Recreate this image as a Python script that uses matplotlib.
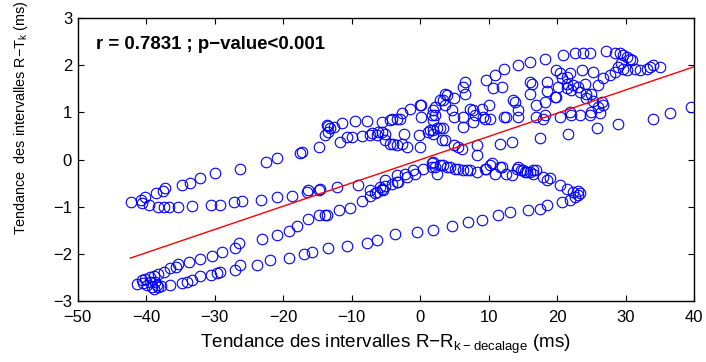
"""Scatter of R-T_k trend vs R-R_k-decalage trend with linear fit."""
import matplotlib
matplotlib.use("Agg")
import matplotlib.pyplot as plt
import numpy as np

# upper band + upper cloud
upper_x = [-42.2, -40.8, -40.1, -38.5, -37.5, -37.2, -34.8, -33.6, -32.2, -29.9, -26.3, -22.5,
           -20.9, -17.5, -17.3, -14.7, -13.9, -13.6, -13.4, -13.1, -13.4, -12.6, -11.7, -11.4,
           -10.7, -10.0, -9.5, -8.5, -7.8, -7.3, -7.0, -6.3, -6.1, -5.6, -5.6, -5.1, -5.1, -4.4,
           -4.4, -4.1, -3.9, -3.4, -3.4, -2.9, -2.7, -2.7, -2.4, -1.9, -1.5, 0.0, 0.2, 0.2, 0.0,
           -0.2, 1.2, 1.5, 1.7, 1.9, 1.9, 1.9, 1.9, 2.2, 2.2, 2.4, 2.9, 2.9, 3.2, 3.4, 3.4, 3.6,
           3.6, 3.6, 3.9, 4.6, 4.9, 4.9, 4.9, 5.6, 6.1, 6.3, 6.3, 6.3, 6.6, 6.6, 7.3, 7.8, 7.8,
           8.0, 8.3, 8.3, 9.0, 9.2, 9.5, 9.7, 10.0, 10.2, 10.7, 10.9, 11.7, 11.9, 12.2, 12.2,
           12.6, 13.4, 13.6, 13.9, 14.3, 14.3, 14.3, 16.0, 16.0, 16.0, 16.3, 17.0, 17.0, 17.5,
           18.0, 18.2, 18.2, 18.2, 18.5, 18.5, 19.7, 19.9, 19.9, 20.2, 20.4, 20.4, 20.7, 20.9,
           21.4, 21.4, 21.4, 21.6, 21.9, 21.9, 22.1, 22.1, 22.4, 22.6, 23.1, 23.3, 23.3, 23.6,
           23.8, 24.1, 24.3, 24.3, 24.8, 24.8, 25.0, 25.0, 25.3, 25.3, 25.8, 26.0, 26.0, 26.3,
           26.5, 26.7, 26.7, 27.2, 27.7, 28.4, 28.4, 28.9, 28.9, 29.2, 29.4, 29.7, 29.7, 30.2,
           30.2, 30.6, 30.9, 31.4, 32.1, 33.1, 33.6, 34.0, 34.0, 35.0, 36.5, 39.6]
upper_y = [-0.89, -0.85, -0.79, -0.72, -0.67, -0.60, -0.53, -0.50, -0.39, -0.28, -0.19, -0.05,
           0.04, 0.14, 0.16, 0.27, 0.52, 0.73, 0.71, 0.66, 0.59, 0.69, 0.37, 0.78,
           0.48, 0.48, 0.82, 0.49, 0.82, 0.52, 0.56, 0.52, 0.59, 0.59, 0.79, 0.41, 0.55, 0.83,
           0.34, 0.87, 0.34, 0.87, 0.30, 0.87, 0.98, 0.34, 0.55, 0.27, 1.08, 1.15, 1.15, 0.90, 0.27,
           0.52, 0.59, 0.62, 0.94, 1.05, 0.83, 0.62, 0.55, 1.12, 0.94, 0.66, 1.26, 0.66, 0.41, 1.26, 0.66, 1.40,
           1.15, 0.41, 1.37, 1.05, 1.30, 0.90, 0.30, 0.27, 0.23, 1.54, 0.90, 0.69, 1.40, 1.65, 1.08, 1.05, 0.80,
           0.94, 0.30, 0.10, 1.08, 0.90, 0.87, 1.68, 1.15, 0.87, 1.51, 1.79, 0.34, 1.54, 1.93, 0.90,
           0.90, 0.37, 1.26, 1.22, 2.00, 1.05, 0.90, 2.07, 1.65, 1.38, 1.61, 1.15, 0.90, 0.45,
           0.87, 2.14, 1.22, 0.94, 1.65, 1.45, 1.33, 1.90, 1.33, 1.54, 1.83, 0.90, 1.72, 2.21,
           1.75, 1.51, 1.61, 0.55, 1.83, 1.01, 1.47, 0.94, 1.58, 2.25, 1.54, 1.44, 0.94, 1.90,
           2.25, 1.61, 1.40, 1.30, 2.25, 0.94, 1.40, 1.01, 1.86, 1.24, 0.66, 1.58, 1.12, 0.98,
           1.22, 1.72, 1.15, 2.31, 1.79, 2.26, 1.86, 1.97, 0.76, 2.26, 2.04, 2.21, 1.93, 2.18,
           1.90, 2.14, 2.11, 1.93, 1.90, 1.93, 1.97, 2.00, 0.87, 1.97, 0.98, 1.12]

# middle band: starts at -1 on the left, rises to the hump near 0..17, curls down to 23
mid_x = [-40.6, -39.6, -38.2, -37.4, -36.7, -35.3, -33.3, -30.6, -29.2, -27.2, -26.0, -23.3,
         -20.9, -18.7, -16.5, -16.3, -14.8, -14.6, -12.2, -9.0, -7.3, -5.8, -5.1, -3.4, -1.9,
         -0.7, 0.5, 1.7, 2.9, 3.9, -3.4, -2.2, -1.0, 1.7, 1.9, 2.2, 2.4, 3.4, 4.4, 5.1, 5.6,
         6.3, 6.8, 7.3, 8.3, 9.5, 9.7, 10.2, 10.5, 10.9, 11.7, 11.9, 12.6, 13.4, 14.1, 14.3,
         14.8, 15.1, 15.3, 15.6, 16.0, 16.5, 16.5, 17.0, 18.0, 18.5, 19.0, 20.4, 21.4, 22.4,
         23.1]
mid_y = [-0.93, -0.97, -1.01, -1.01, -1.01, -1.01, -0.99, -0.97, -0.96, -0.90, -0.88, -0.85,
         -0.79, -0.78, -0.69, -0.65, -0.65, -0.62, -0.58, -0.55, -0.65, -0.58, -0.44, -0.48, -0.37,
         -0.30, -0.19, -0.16, -0.12, -0.16, -0.33, -0.30, -0.23, -0.08, -0.05, -0.16, -0.30, -0.12, -0.16, -0.19, -0.19,
         -0.23, -0.23, -0.23, -0.26, -0.19, -0.19, -0.12, -0.08, -0.30, -0.16, -0.16, -0.30, -0.33, -0.19, -0.16,
         -0.23, -0.23, -0.26, -0.26, -0.26, -0.30, -0.23, -0.23, -0.37, -0.44, -0.40, -0.55, -0.62, -0.69,
         -0.76]

# lower rising band
low_x = [-41.3, -40.6, -40.1, -39.4, -38.9, -38.2, -37.4, -36.5, -35.7, -35.3, -33.8, -32.1,
         -30.4, -28.9, -27.0, -26.5, -23.1, -20.9, -19.2, -18.0, -16.3, -14.8, -13.9, -13.6,
         -11.9, -10.2, -8.5, -7.3, -6.6, -6.3, -5.6, -5.4, -5.1, -4.1, -3.2]
low_y = [-2.63, -2.56, -2.53, -2.49, -2.46, -2.42, -2.39, -2.31, -2.27, -2.22, -2.17, -2.10,
         -2.05, -1.96, -1.87, -1.77, -1.68, -1.61, -1.52, -1.40, -1.27, -1.18, -1.18, -1.18,
         -1.07, -1.02, -0.87, -0.77, -0.71, -0.69, -0.62, -0.65, -0.57, -0.51, -0.48]

# bottom band
bottom_x = [-40.4, -39.9, -39.4, -39.1, -38.9, -38.7, -38.4, -38.2, -37.9, -36.5, -34.8, -34.0,
            -33.3, -32.1, -30.6, -29.7, -29.2, -27.0, -26.3, -23.8, -21.9, -19.2, -17.0, -15.8,
            -13.4, -10.7, -7.8, -6.3, -3.6, -0.5, 1.9, 4.6, 7.0, 9.0, 11.4, 13.1, 15.8, 17.5,
            18.5, 20.7, 21.9, 22.6, 23.3, 23.1]
bottom_y = [-2.62, -2.65, -2.60, -2.70, -2.74, -2.60, -2.67, -2.70, -2.69, -2.65, -2.62, -2.60,
            -2.55, -2.48, -2.44, -2.41, -2.39, -2.34, -2.24, -2.23, -2.14, -2.08, -2.01, -1.96,
            -1.87, -1.84, -1.77, -1.70, -1.57, -1.54, -1.50, -1.40, -1.32, -1.29, -1.18, -1.11, -1.08, -1.04,
            -0.97, -0.90, -0.86, -0.80, -0.72, -0.66]

# least squares line as shown
fit_x = [-42.3, 40.0]
fit_slope = 0.0493
fit_intercept = -0.004
stat_text = "r = 0.7831 ; p\u2212value<0.001"

x_ticks = list(range(-50, 41, 10))
y_ticks = list(range(-3, 4))


def main():
    plt.rcParams["font.family"] = ["Liberation Sans", "DejaVu Sans"]
    plt.rcParams["axes.unicode_minus"] = True

    fig = plt.figure(figsize=(7.06, 3.62), dpi=100)
    ax = fig.add_axes([0.110, 0.1685, 0.873, 0.7815])

    xs = upper_x + mid_x + low_x + bottom_x
    ys = upper_y + mid_y + low_y + bottom_y
    ax.plot(xs, ys, linestyle="none", marker="o", markersize=7.6,
            markerfacecolor="none", markeredgecolor="#0000ff", markeredgewidth=0.8)

    fx = np.array(fit_x)
    ax.plot(fx, fit_slope * fx + fit_intercept, color="#ff0000", linewidth=1.0)

    ax.text(-47.3, 2.45, stat_text, fontsize=13.4, fontweight="bold", va="center", ha="left")

    ax.set_xlim(-50, 40)
    ax.set_ylim(-3, 3)
    ax.set_xticks(x_ticks)
    ax.set_yticks(y_ticks)
    ax.tick_params(direction="in", length=4, width=0.8, labelsize=12, top=True, right=True)
    ax.tick_params(axis="x", pad=6.5)
    ax.tick_params(axis="y", pad=4)
    for sp in ax.spines.values():
        sp.set_linewidth(1.0)

    ax.set_xlabel("Tendance des intervalles R\u2212R$_{\\mathregular{k\u2212decalage}}$ (ms)",
                  fontsize=13.6)
    ax.set_ylabel("Tendance  des intervalles R\u2212T$_{\\mathregular{k}}$ (ms)", fontsize=10.4)
    ax.xaxis.set_label_coords(0.5, -0.11)
    ax.yaxis.set_label_coords(-0.077, 0.65)

    fig.savefig("out.png", dpi=100)


if __name__ == "__main__":
    main()
